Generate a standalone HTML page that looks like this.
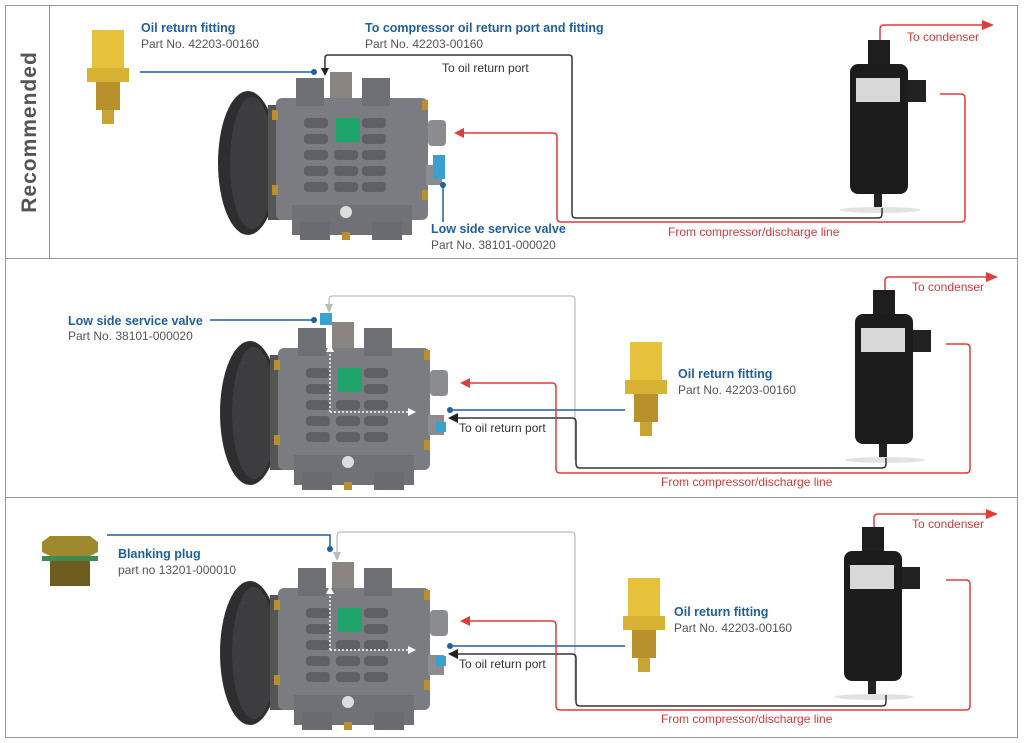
<!DOCTYPE html>
<html><head><meta charset="utf-8"><style>
html,body{margin:0;padding:0;background:#fff}
svg{display:block}
.bl{font-family:"Liberation Sans",sans-serif;font-weight:bold;font-size:12.5px;fill:#1f5f9e}
.gr{font-family:"Liberation Sans",sans-serif;font-size:12px;fill:#555}
.rd{font-family:"Liberation Sans",sans-serif;font-size:12px;fill:#d63a3a}
.bk{font-family:"Liberation Sans",sans-serif;font-size:12px;fill:#333}
</style></head><body>
<svg width="1024" height="743" viewBox="0 0 1024 743" xmlns="http://www.w3.org/2000/svg">
<defs>
 <g id="comp">
  <ellipse cx="248" cy="163" rx="30" ry="72" fill="#2e2e30"/>
  <ellipse cx="252" cy="163" rx="22" ry="66" fill="#3d3d40"/>
  <rect x="268" y="105" width="14" height="115" fill="#555"/>
  <rect x="276" y="98" width="152" height="122" rx="6" fill="#7b7c82"/>
  <rect x="296" y="78" width="28" height="28" fill="#6e6f75"/>
  <rect x="362" y="78" width="28" height="28" fill="#6e6f75"/>
  <rect x="330" y="72" width="22" height="26" fill="#8a8580"/>
  <rect x="292" y="205" width="120" height="30" fill="#707177"/>
  <rect x="300" y="222" width="30" height="18" fill="#6a6b70"/>
  <rect x="372" y="222" width="30" height="18" fill="#6a6b70"/>
  <circle cx="346" cy="212" r="6" fill="#ddd"/>
  <g fill="#5f6066">
   <rect x="304" y="118" width="24" height="10" rx="4"/><rect x="362" y="118" width="24" height="10" rx="4"/>
   <rect x="304" y="134" width="24" height="10" rx="4"/><rect x="362" y="134" width="24" height="10" rx="4"/>
   <rect x="304" y="150" width="24" height="10" rx="4"/><rect x="334" y="150" width="24" height="10" rx="4"/><rect x="362" y="150" width="24" height="10" rx="4"/>
   <rect x="304" y="166" width="24" height="10" rx="4"/><rect x="334" y="166" width="24" height="10" rx="4"/><rect x="362" y="166" width="24" height="10" rx="4"/>
   <rect x="304" y="182" width="24" height="10" rx="4"/><rect x="334" y="182" width="24" height="10" rx="4"/><rect x="362" y="182" width="24" height="10" rx="4"/>
  </g>
  <rect x="336" y="118" width="24" height="24" fill="#1ea36a"/>
  <rect x="428" y="120" width="18" height="26" rx="4" fill="#8b8c90"/>
  <rect x="426" y="165" width="16" height="20" fill="#8b8c90"/>
  <g fill="#b8912e"><rect x="272" y="110" width="6" height="10"/><rect x="272" y="185" width="6" height="10"/><rect x="422" y="100" width="6" height="10"/><rect x="422" y="190" width="6" height="10"/><rect x="342" y="232" width="8" height="8"/></g>
 </g>
 <g id="filt">
  <rect x="0" y="0" width="22" height="26" fill="#1e1e1e"/>
  <rect x="-18" y="24" width="58" height="130" rx="8" fill="#1c1c1c"/>
  <rect x="40" y="40" width="18" height="22" fill="#222"/>
  <rect x="-12" y="38" width="44" height="24" fill="#d8d8d8"/>
  <rect x="6" y="154" width="8" height="14" fill="#222"/>
  <ellipse cx="12" cy="170" rx="40" ry="3" fill="#e2e2e2"/>
 </g>
 <g id="fit">
  <rect x="0" y="0" width="32" height="40" fill="#e6c23a"/>
  <rect x="-5" y="38" width="42" height="14" fill="#d7b233"/>
  <rect x="4" y="52" width="24" height="28" fill="#b8902c"/>
  <rect x="10" y="80" width="12" height="14" fill="#c9a334"/>
 </g>
</defs>

<!-- frames -->
<rect x="5.5" y="5.5" width="1012" height="732" fill="none" stroke="#999"/>
<line x1="5" y1="258.5" x2="1018" y2="258.5" stroke="#999"/>
<line x1="5" y1="497.5" x2="1018" y2="497.5" stroke="#999"/>
<line x1="49.5" y1="5" x2="49.5" y2="258" stroke="#999"/>
<text transform="translate(36,132) rotate(-90)" text-anchor="middle" font-family="Liberation Sans,sans-serif" font-weight="bold" font-size="21" fill="#555" letter-spacing="1">Recommended</text>

<!-- ROW 1 -->
<use href="#comp"/>
<use href="#fit" x="92" y="30"/>
<use href="#filt" x="868" y="40"/>
<text x="141" y="32" class="bl">Oil return fitting</text>
<text x="141" y="48" class="gr">Part No. 42203-00160</text>
<text x="365" y="32" class="bl">To compressor oil return port and fitting</text>
<text x="365" y="48" class="gr">Part No. 42203-00160</text>
<text x="442" y="72" class="bk">To oil return port</text>
<text x="431" y="233" class="bl">Low side service valve</text>
<text x="431" y="249" class="gr">Part No. 38101-000020</text>
<text x="668" y="236" class="rd">From compressor/discharge line</text>
<text x="907" y="41" class="rd">To condenser</text>
<line x1="140" y1="72" x2="313" y2="72" stroke="#1f5f9e" stroke-width="1.5"/><circle cx="314" cy="72" r="3" fill="#1f5f9e"/>
<path d="M325 70 V58 Q325 55 328 55 H569 Q572 55 572 58 V214 Q572 218 576 218 H878 Q882 218 882 214 V208" fill="none" stroke="#333" stroke-width="1.5"/>
<path d="M321 68 L329 68 L325 76 Z" fill="#222"/>
<path d="M462 133 H553 Q557 133 557 137 V218 Q557 222 561 222 H961 Q965 222 965 218 V98 Q965 94 961 94 H940" fill="none" stroke="#e03c3c" stroke-width="1.5"/>
<path d="M454 133 L464 128 L464 138 Z" fill="#e03c3c"/>
<path d="M880 40 V29 Q880 25 884 25 H984" fill="none" stroke="#e03c3c" stroke-width="1.5"/>
<path d="M994 25 L982 20 L982 30 Z" fill="#e03c3c"/>
<line x1="443" y1="185" x2="443" y2="222" stroke="#1f5f9e" stroke-width="1.5"/><circle cx="443" cy="185" r="3" fill="#1f5f9e"/>
<rect x="433" y="155" width="12" height="24" fill="#3aa0d0"/>

<!-- ROW 2 -->
<use href="#comp" x="2" y="250"/>
<use href="#fit" x="630" y="342"/>
<use href="#filt" x="873" y="290"/>
<text x="68" y="325" class="bl">Low side service valve</text>
<text x="68" y="340" class="gr">Part No. 38101-000020</text>
<text x="678" y="378" class="bl">Oil return fitting</text>
<text x="678" y="394" class="gr">Part No. 42203-00160</text>
<text x="459" y="432" class="bk">To oil return port</text>
<text x="661" y="486" class="rd">From compressor/discharge line</text>
<text x="912" y="291" class="rd">To condenser</text>
<rect x="320" y="313" width="12" height="12" fill="#3aa0d0"/>
<line x1="210" y1="320" x2="313" y2="320" stroke="#1f5f9e" stroke-width="1.5"/><circle cx="314" cy="320" r="3" fill="#1f5f9e"/>
<path d="M329 306 V300 Q329 296 333 296 H571 Q575 296 575 300 V460" fill="none" stroke="#bbb" stroke-width="1.2"/>
<path d="M325 304 L333 304 L329 313 Z" fill="#bbb"/>
<path d="M456 418 H572 Q576 418 576 422 V464 Q576 468 580 468 H882 Q886 468 886 464 V458" fill="none" stroke="#333" stroke-width="1.5"/>
<path d="M448 418 L458 413 L458 423 Z" fill="#222"/>
<line x1="450" y1="410" x2="625" y2="410" stroke="#1f5f9e" stroke-width="1.5"/><circle cx="450" cy="410" r="3" fill="#1f5f9e"/>
<path d="M468 383 H552 Q556 383 556 387 V469 Q556 473 560 473 H966 Q970 473 970 469 V348 Q970 344 966 344 H946" fill="none" stroke="#e03c3c" stroke-width="1.5"/>
<path d="M460 383 L470 378 L470 388 Z" fill="#e03c3c"/>
<path d="M885 290 V281 Q885 277 889 277 H988" fill="none" stroke="#e03c3c" stroke-width="1.5"/>
<path d="M998 277 L986 272 L986 282 Z" fill="#e03c3c"/>
<path d="M330 412 V350 M330 412 H410" fill="none" stroke="#fff" stroke-width="1.5" stroke-dasharray="2 2"/>
<path d="M326 352 L330 344 L334 352 Z M408 408 L416 412 L408 416 Z" fill="#fff"/>
<rect x="436" y="422" width="10" height="10" fill="#3aa0d0"/>

<!-- ROW 3 -->
<use href="#comp" x="2" y="490"/>
<use href="#fit" x="628" y="578"/>
<use href="#filt" x="862" y="527"/>
<g>
 <path d="M42 542 L50 536 H90 L98 542 V552 L90 556 H50 L42 552 Z" fill="#9e8a2c"/>
 <rect x="42" y="556" width="56" height="5" fill="#3e8a55"/>
 <rect x="50" y="561" width="40" height="25" fill="#6e5c1e"/>
</g>
<text x="118" y="558" class="bl">Blanking plug</text>
<text x="118" y="574" class="gr">part no 13201-000010</text>
<text x="674" y="616" class="bl">Oil return fitting</text>
<text x="674" y="632" class="gr">Part No. 42203-00160</text>
<text x="459" y="668" class="bk">To oil return port</text>
<text x="661" y="723" class="rd">From compressor/discharge line</text>
<text x="912" y="528" class="rd">To condenser</text>
<path d="M107 535 H330 V548" fill="none" stroke="#1f5f9e" stroke-width="1.5"/><circle cx="330" cy="549" r="3" fill="#1f5f9e"/>
<path d="M337 552 V536 Q337 532 341 532 H571 Q575 532 575 536 V700" fill="none" stroke="#bbb" stroke-width="1.2"/>
<path d="M333 552 L341 552 L337 561 Z" fill="#bbb"/>
<path d="M456 654 H572 Q576 654 576 658 V702 Q576 706 580 706 H882 Q886 706 886 702 V695" fill="none" stroke="#333" stroke-width="1.5"/>
<path d="M448 654 L458 649 L458 659 Z" fill="#222"/>
<line x1="450" y1="646" x2="625" y2="646" stroke="#1f5f9e" stroke-width="1.5"/><circle cx="450" cy="646" r="3" fill="#1f5f9e"/>
<path d="M468 621 H552 Q556 621 556 625 V706 Q556 710 560 710 H966 Q970 710 970 706 V584 Q970 580 966 580 H946" fill="none" stroke="#e03c3c" stroke-width="1.5"/>
<path d="M460 621 L470 616 L470 626 Z" fill="#e03c3c"/>
<path d="M874 527 V518 Q874 514 878 514 H988" fill="none" stroke="#e03c3c" stroke-width="1.5"/>
<path d="M998 514 L986 509 L986 519 Z" fill="#e03c3c"/>
<path d="M330 650 V592 M330 650 H410" fill="none" stroke="#fff" stroke-width="1.5" stroke-dasharray="2 2"/>
<path d="M326 594 L330 586 L334 594 Z M408 646 L416 650 L408 654 Z" fill="#fff"/>
<rect x="436" y="656" width="10" height="10" fill="#3aa0d0"/>
</svg>
</body></html>
